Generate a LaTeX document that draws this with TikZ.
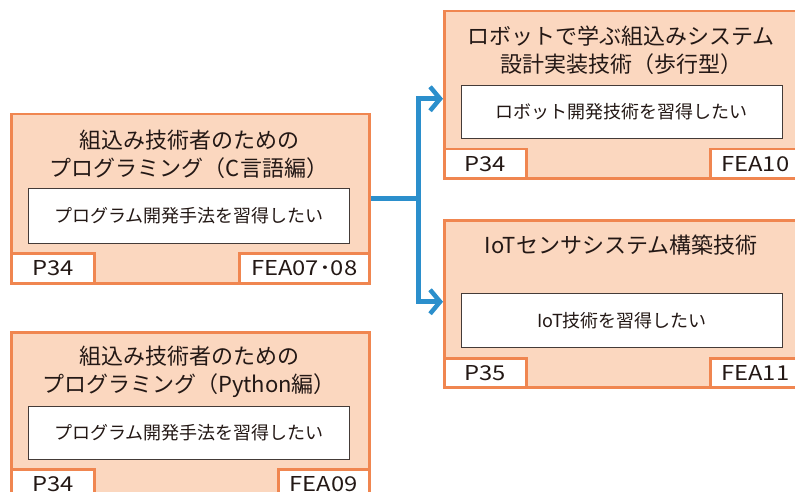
\documentclass[tikz,border=0pt]{standalone}
\usepackage{fontspec}
\setmainfont{Noto Sans CJK JP}
\newfontfamily\tabfont[FakeStretch=1.16]{Noto Sans CJK JP}
\usetikzlibrary{arrows.meta,calc}
\definecolor{orn}{HTML}{F08650}
\definecolor{pch}{HTML}{FBD7BF}
\definecolor{blu}{HTML}{2B8FCC}
\definecolor{txt}{HTML}{231815}
\begin{document}
\begin{tikzpicture}[x=1pt,y=-1pt,
  card/.style={draw=orn, fill=pch, line width=2.5pt, inner sep=0pt, anchor=north west},
  inbox/.style={draw=txt!85, fill=white, line width=0.9pt, inner sep=0pt, anchor=north west, font=\fontsize{18}{20}\selectfont, text=txt},
  tab/.style={draw=orn, fill=white, line width=2.5pt, inner sep=0pt, anchor=north west, font=\tabfont\fontsize{20.5}{22}\selectfont, text=txt},
  ttl/.style={align=center, inner sep=0pt, font=\fontsize{22}{28}\selectfont, text=txt},
  conn/.style={draw=blu, line width=5pt},
  tip/.style={-{Straight Barb[length=10pt,width=24pt,line width=4.5pt]}}
]
\useasboundingbox (0,0) rectangle (795,492);
\clip (0,0) rectangle (795,492);
% card C
\node[card, minimum width=358pt, minimum height=169pt] (c) at (10,113) {};
\node[ttl] (ct) at (189,154) {組込み技術者のための\\プログラミング（C言語編）};
\node[inbox, minimum width=321pt, minimum height=55pt] (ci) at (28,188) {プログラム開発手法を習得したい};
\node[tab, minimum width=83pt, minimum height=30pt] (cp) at (10,252) {P34};
\node[tab, minimum width=130pt, minimum height=30pt] (cf) at (238,252) {FEA07･08};
% card Python
\node[card, minimum width=358pt, minimum height=170pt] (p) at (10,331) {};
\node[ttl] (pt) at (189,372) {組込み技術者のための\\プログラミング（Python編）};
\node[inbox, minimum width=321pt, minimum height=53pt] (pi) at (28,406) {プログラム開発手法を習得したい};
\node[tab, minimum width=83pt, minimum height=30pt] (pp) at (10,468) {P34};
\node[tab, minimum width=91pt, minimum height=30pt] (pf) at (277,468) {FEA09};
% card Robot
\node[card, minimum width=356pt, minimum height=167pt] (r) at (443,10) {};
\node[ttl] (rt) at (621,50.5) {ロボットで学ぶ組込みシステム\\設計実装技術（歩行型）};
\node[inbox, minimum width=321pt, minimum height=53pt] (ri) at (461,85) {ロボット開発技術を習得したい};
\node[tab, minimum width=82pt, minimum height=29pt] (rp) at (443,148) {P34};
\node[tab, minimum width=90pt, minimum height=29pt] (rf) at (709,148) {FEA10};
% card IoT
\node[card, minimum width=356pt, minimum height=167pt] (o) at (443,219) {};
\node[ttl] (ot) at (621,245) {IoTセンサシステム構築技術};
\node[inbox, minimum width=321pt, minimum height=54pt] (oi) at (461,293) {IoT技術を習得したい};
\node[tab, minimum width=82pt, minimum height=29pt] (op) at (443,357) {P35};
\node[tab, minimum width=90pt, minimum height=29pt] (of) at (709,357) {FEA11};
% connectors
\coordinate (j) at ($(c.east)+(48,0)$);
\draw[conn] (c.east) -- (j);
\draw[conn, tip] (j) |- ($(r.west)+(0,4)$);
\draw[conn, tip] (j) |- ($(o.west)+(0,-2)$);
\end{tikzpicture}
\end{document}
